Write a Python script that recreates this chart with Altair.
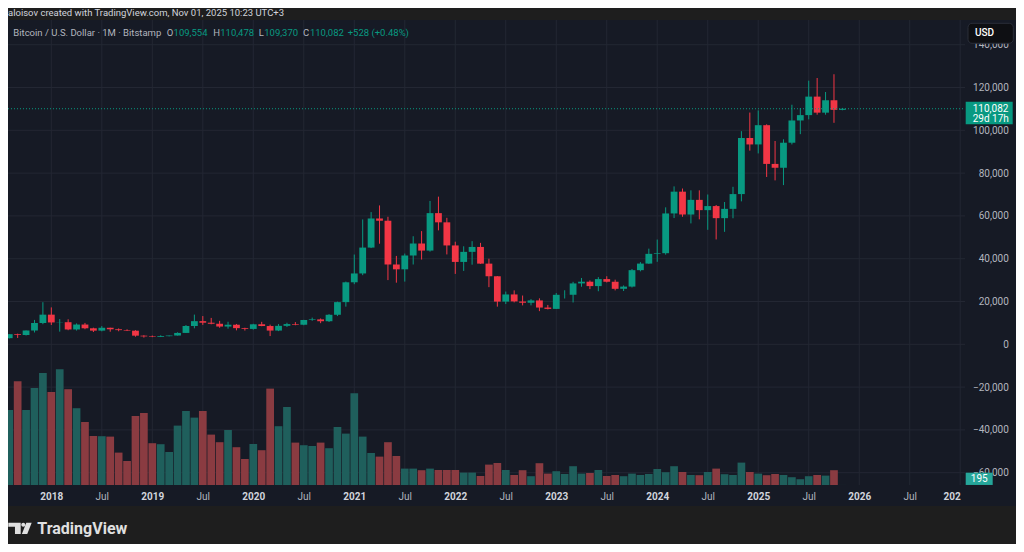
import json
import numpy as np
import pandas as pd
import altair as alt

# ---------------- data (monthly BTC/USD, Bitstamp, Aug 2017 - Nov 2025) ----------------
months = pd.period_range("2017-08", "2025-11", freq="M").strftime("%Y-%m").tolist()

opens = [
    2871, 4735, 4340, 6450, 9950,
    13860, 10220, 10330, 6930, 9240, 7490, 6390, 7730, 7030, 6630, 6370, 4040,
    3690, 3430, 3810, 4100, 5320, 8550, 10820, 10090, 9600, 8300, 9150, 7550,
    7190, 9350, 8540, 6420, 8630, 9450, 9140, 11350, 11650, 10780, 13800, 19710,
    28980, 33110, 45200, 58800, 57750, 37300, 35040, 41500, 47100, 43800, 61300, 57000,
    46200, 38500, 43200, 45500, 37700, 31800, 19950, 23300, 20050, 19430, 20500, 17170,
    16550, 23130, 23150, 28450, 29250, 27200, 30480, 29230, 25930, 26970, 34650, 37720,
    42270, 42580, 61150, 71330, 60650, 67500, 62700, 64600, 58950, 63300, 70200, 96400,
    93400, 102400, 84300, 82500, 94200, 104600, 107100, 115750, 108250, 114050, 109554,
]
highs = [
    4760, 4980, 6470, 11400, 19670,
    17250, 11790, 11680, 9760, 9990, 7770, 8500, 7770, 7420, 7000, 6600, 4240,
    4100, 4200, 4110, 5600, 9000, 13880, 13200, 12330, 10950, 10540, 9510, 7750,
    9570, 10500, 9190, 9460, 10070, 10380, 11440, 12480, 12070, 14100, 19950, 29300,
    41950, 58350, 61790, 64900, 59600, 41300, 42400, 50500, 52900, 67000, 69000, 59100,
    47950, 45800, 48200, 47400, 40000, 31900, 24650, 25200, 22800, 21100, 21480, 18400,
    23950, 25250, 29200, 31000, 29850, 31400, 31800, 30200, 27500, 35200, 38400, 44700,
    48950, 64000, 73800, 72800, 71950, 71950, 70000, 65100, 66500, 73600, 99600, 108300,
    109300, 102800, 95000, 95800, 111950, 110400, 123200, 124450, 117900, 126200, 110478,
]
lows = [
    2700, 2970, 4110, 5520, 9400,
    9030, 5920, 6590, 6430, 7050, 5750, 6070, 5880, 6100, 6200, 3560, 3130,
    3340, 3390, 3700, 4080, 5320, 7470, 9070, 9350, 7730, 7300, 6520, 6430,
    6860, 8440, 3850, 6160, 8110, 8900, 8900, 10990, 9880, 10420, 13200, 17600,
    28100, 32300, 44960, 47000, 30000, 28800, 29300, 37300, 39600, 43300, 53250, 42000,
    32900, 34300, 37200, 37600, 26700, 17600, 18800, 19600, 18200, 18200, 15500, 16300,
    16500, 21400, 19550, 26900, 25800, 24800, 28900, 25200, 24900, 26550, 34100, 37600,
    38550, 41900, 59000, 59600, 56500, 58400, 53500, 49000, 52550, 58900, 66800, 90500,
    89200, 78200, 76600, 74400, 93400, 98200, 105100, 107300, 107300, 103500, 109370,
]
closes = [
    4735, 4340, 6450, 9950, 13860,
    10220, 10330, 6930, 9240, 7490, 6390, 7730, 7030, 6630, 6370, 4040, 3690,
    3430, 3810, 4100, 5320, 8550, 10820, 10090, 9600, 8300, 9150, 7550, 7190,
    9350, 8540, 6420, 8630, 9450, 9140, 11350, 11650, 10780, 13800, 19710, 28980,
    33110, 45200, 58800, 57750, 37300, 35040, 41500, 47100, 43800, 61300, 57000, 46200,
    38500, 43200, 45500, 37700, 31800, 19950, 23300, 20050, 19430, 20500, 17170, 16550,
    23130, 23150, 28450, 29250, 27200, 30480, 29230, 25930, 26970, 34650, 37720, 42270,
    42580, 61150, 71330, 60650, 67500, 62700, 64600, 58950, 63300, 70200, 96400, 93400,
    102400, 84300, 82500, 94200, 104600, 107100, 115750, 108250, 114050, 109554, 110082,
]
# volume, thousand BTC
vols = [
    375, 519, 375, 485, 560,
    465, 579, 479, 384, 315, 245, 244, 242, 162, 120, 345, 360,
    209, 204, 165, 297, 370, 337, 370, 252, 214, 275, 189, 130,
    205, 174, 482, 294, 390, 212, 199, 195, 212, 184, 290, 257,
    459, 242, 160, 142, 214, 145, 82, 82, 74, 82, 75, 75,
    75, 62, 62, 45, 102, 110, 75, 50, 74, 44, 109, 57,
    69, 55, 94, 57, 60, 75, 45, 50, 44, 57, 50, 55,
    80, 64, 94, 65, 50, 49, 65, 82, 54, 50, 112, 65,
    57, 49, 55, 50, 39, 29, 44, 50, 47, 74, 0.195,
]

x_tick_months = [0, 6, 12, 18, 24, 30, 36, 42, 48, 54, 60, 66, 72, 78, 84, 90, 96, 102, 108]
x_tick_labels = ["2018", "Jul", "2019", "Jul", "2020", "Jul", "2021", "Jul", "2022", "Jul",
                 "2023", "Jul", "2024", "Jul", "2025", "Jul", "2026", "Jul", "202"]
y_ticks = [-60000, -40000, -20000, 0, 20000, 40000, 60000, 80000, 100000, 120000, 140000]

header_text = "aloisov created with TradingView.com, Nov 01, 2025 10:23 UTC+3"
symbol_text = "Bitcoin / U.S. Dollar · 1M · Bitstamp"
timer_text = "29d 17h"

# ---------------- styling ----------------
FONT = "Roboto"
OUTER = "#1e1e1e"
PANEL = "#161a25"
GRID = "#232733"
GREEN = "#089981"
RED = "#f23645"
VOL_G = "#1f5f5c"
VOL_R = "#8a3b41"
VOLBOX = "#26a69a"
AXIS_TXT = "#b2b5be"
BRIGHT = "#d1d4dc"

W, H = 1008, 486
PLOT_R = 957          # right edge of the plot pane (px)
VOL_BASE = 465        # bottom of plot pane (px)

df = pd.DataFrame({"month": months, "i": list(range(-5, -5 + len(months))),
                   "open": opens, "high": highs, "low": lows, "close": closes, "vol": vols})
df["vbase"] = 0

xs = alt.Scale(domain=[-4.553, 114.035], nice=False, zero=False)
ps = alt.Scale(domain=[-75560, 151550], nice=False, zero=False)
vs = alt.Scale(domain=[-105, 2325], nice=False, zero=False)

up = "datum.close >= datum.open"
one = pd.DataFrame({"k": [0]})

label_expr = f"{json.dumps(x_tick_labels)}[indexof({json.dumps(x_tick_months)}, datum.value)]"
xaxis = alt.Axis(
    values=x_tick_months, labelExpr=label_expr, orient="bottom", domain=False, ticks=False,
    tickSize=0, grid=False, labelPadding=-10, labelBaseline="middle", labelFont=FONT,
    labelFontSize=10,
    labelColor={"condition": {"test": "datum.value % 12 == 0", "value": BRIGHT}, "value": AXIS_TXT},
    labelFontWeight={"condition": {"test": "datum.value % 12 == 0", "value": "bold"}, "value": "normal"},
    labelAlign={"condition": {"test": "datum.value == 108", "value": "right"}, "value": "center"},
    labelFlush=False, labelOverlap=False, title=None,
)
yaxis = alt.Axis(
    values=y_ticks, labelExpr="format(datum.value, ',')", orient="right", domain=False,
    ticks=False, tickSize=0, grid=False, labelAlign="right", labelPadding=-7.7,
    labelBaseline="middle", labelFont=FONT, labelFontSize=10, labelColor=AXIS_TXT,
    labelFlush=False, labelOverlap=False, title=None,
)

X = alt.X("i:Q", scale=xs)

vgrid = alt.Chart(pd.DataFrame({"i": x_tick_months})).mark_rule(color=GRID, strokeWidth=1).encode(
    x=alt.X("i:Q", scale=xs, axis=xaxis), y=alt.value(0), y2=alt.value(VOL_BASE))
hgrid = alt.Chart(pd.DataFrame({"p": y_ticks})).mark_rule(color=GRID, strokeWidth=1).encode(
    y=alt.Y("p:Q", scale=ps, axis=yaxis), x=alt.value(0), x2=alt.value(PLOT_R))

volbars = alt.Chart(df).mark_bar(width=7.7, clip=True).encode(
    x=X, y=alt.Y("vol:Q", scale=vs, axis=None), y2="vbase:Q",
    color=alt.condition(up, alt.value(VOL_G), alt.value(VOL_R)))

wicks = alt.Chart(df).mark_rule(strokeWidth=1, clip=True).encode(
    x=X, y=alt.Y("low:Q", scale=ps, axis=None), y2="high:Q",
    color=alt.condition(up, alt.value(GREEN), alt.value(RED)))
bodies = alt.Chart(df).mark_bar(width=6.8, clip=True).encode(
    x=X, y=alt.Y("open:Q", scale=ps, axis=None), y2="close:Q",
    color=alt.condition(up, alt.value(GREEN), alt.value(RED)))

last = pd.DataFrame({"price": [closes[-1]], "label": [f"{closes[-1]:,}"], "timer": [timer_text]})
lastline = alt.Chart(last).mark_rule(strokeDash=[1, 2], color=GREEN, strokeWidth=1).encode(
    y=alt.Y("price:Q", scale=ps, axis=None), x=alt.value(0), x2=alt.value(PLOT_R))
pricebox = alt.Chart(last).mark_rect(color=GREEN, yOffset=-7, y2Offset=15.6).encode(
    y=alt.Y("price:Q", scale=ps, axis=None), y2="price:Q",
    x=alt.value(PLOT_R + 0.7), x2=alt.value(1004.7))
pricetxt = alt.Chart(last).mark_text(align="left", baseline="middle", color="white",
                                     fontSize=10, font=FONT).encode(
    y=alt.Y("price:Q", scale=ps, axis=None), x=alt.value(964.7), text="label:N")
timertxt = alt.Chart(last).mark_text(align="left", baseline="middle", color="white",
                                     fontSize=10, font=FONT, dy=10).encode(
    y=alt.Y("price:Q", scale=ps, axis=None), x=alt.value(964.7), text="timer:N")

vlast = pd.DataFrame({"vol": [vols[-1]], "label": [f"{vols[-1] * 1000:.0f}"]})
volbox = alt.Chart(vlast).mark_rect(color=VOLBOX, yOffset=-12.3).encode(
    y=alt.Y("vol:Q", scale=vs, axis=None), y2="vol:Q",
    x=alt.value(PLOT_R + 0.7), x2=alt.value(984.7))
voltxt = alt.Chart(vlast).mark_text(align="center", baseline="middle", color="white",
                                    fontSize=10, font=FONT, dy=-6).encode(
    y=alt.Y("vol:Q", scale=vs, axis=None), x=alt.value(971.2), text="label:N")

usdbox = alt.Chart(one).mark_rect(cornerRadius=4, fill="#0e0f13", stroke="#2a2e39",
                                  strokeWidth=1).encode(
    x=alt.value(960), x2=alt.value(1005.3), y=alt.value(3.3), y2=alt.value(23.3))
usdtxt = alt.Chart(one).mark_text(align="left", baseline="middle", color="white",
                                  fontSize=10, font=FONT, fontWeight=500).encode(
    x=alt.value(967), y=alt.value(13.3), text=alt.value("USD"))

# legend line (symbol + OHLC of the last bar)
o, h, l, c = opens[-1], highs[-1], lows[-1], closes[-1]
chg = c - o
legend_items = [
    (symbol_text, AXIS_TXT), ("O", AXIS_TXT), (f"{o:,}", GREEN), ("H", AXIS_TXT), (f"{h:,}", GREEN),
    ("L", AXIS_TXT), (f"{l:,}", GREEN), ("C", AXIS_TXT), (f"{c:,}", GREEN),
    (f"{chg:+,} ({chg / o * 100:+.2f}%)", GREEN),
]
legend_x = [5.3, 158.7, 165.6, 205.3, 212.2, 250.7, 256.2, 295, 301.9, 339.7]
legend_layers = [
    alt.Chart(one).mark_text(align="left", baseline="middle", color=col, fontSize=9.5,
                             font=FONT).encode(x=alt.value(px), y=alt.value(12.7), text=alt.value(txt))
    for (txt, col), px in zip(legend_items, legend_x)
]

header = alt.Chart(one).mark_text(align="left", baseline="middle", color=BRIGHT, fontSize=9.5,
                                  font=FONT).encode(x=alt.value(0), y=alt.value(-7),
                                                    text=alt.value(header_text))

logo_path = ("M-1,-0.48H0.06V0.48H-0.43V-0.14H-1Z "
             "M0.11,-0.31A0.17,0.17 0 1,0 0.45,-0.31A0.17,0.17 0 1,0 0.11,-0.31Z "
             "M0.54,-0.48L1,-0.48L0.62,0.48L0.16,0.48Z")
logo = alt.Chart(one).mark_point(shape=logo_path, filled=True, size=547.6, color="#e0e0e0",
                                 opacity=1, strokeWidth=0).encode(
    x=alt.value(12), y=alt.value(508.3))
brand = alt.Chart(one).mark_text(align="left", baseline="middle", color="#e0e0e0", fontSize=16,
                                 font=FONT, fontWeight="bold").encode(
    x=alt.value(29.3), y=alt.value(509), text=alt.value("TradingView"))

chart = alt.layer(
    vgrid, hgrid, volbars, wicks, bodies, lastline,
    pricebox, pricetxt, timertxt, volbox, voltxt, usdbox, usdtxt,
    *legend_layers, header, logo, brand,
).resolve_scale(y="independent").properties(
    width=W, height=H, background=OUTER,
    padding={"left": 0, "top": 12, "right": 0, "bottom": 38},
    autosize=alt.AutoSizeParams(type="none"),
).configure_view(fill=PANEL, stroke=PANEL, strokeWidth=0)

chart.save("out.html", embed_options={"renderer": "svg", "actions": False})
